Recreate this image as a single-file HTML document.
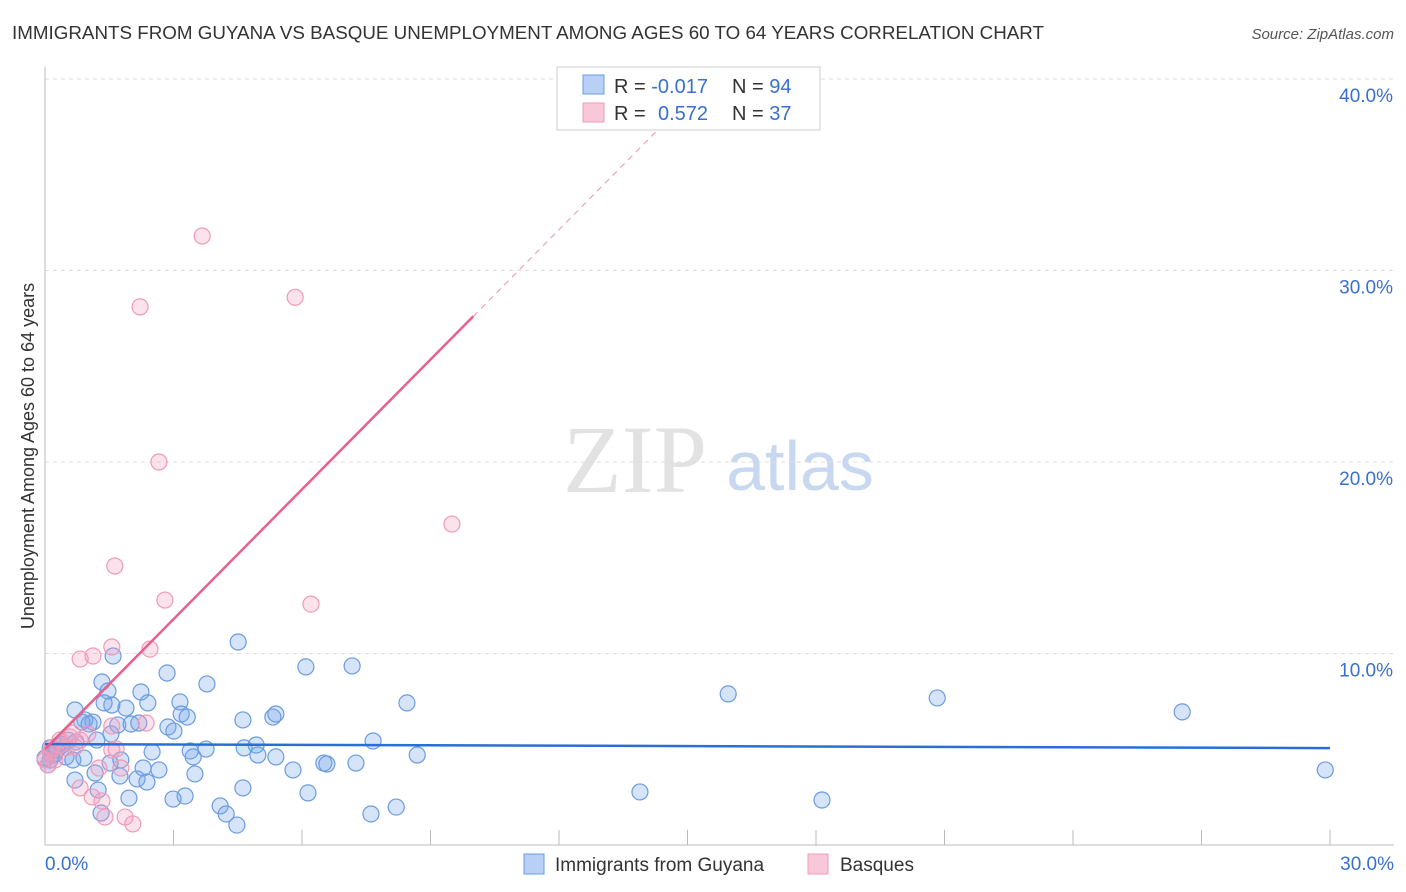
<!DOCTYPE html>
<html><head><meta charset="utf-8"><style>
body{margin:0;background:#fff;width:1406px;height:892px;overflow:hidden;font-family:"Liberation Sans",sans-serif}
svg{display:block}
</style></head><body>
<svg id="c" width="1406" height="892">
<text x="12" y="39" font-size="18" fill="#333" textLength="1032" lengthAdjust="spacingAndGlyphs">IMMIGRANTS FROM GUYANA VS BASQUE UNEMPLOYMENT AMONG AGES 60 TO 64 YEARS CORRELATION CHART</text>
<text x="1394" y="39" font-size="15" fill="#555" font-style="italic" text-anchor="end">Source: ZipAtlas.com</text>
<text transform="translate(34,456) rotate(-90)" font-size="18" fill="#333" text-anchor="middle">Unemployment Among Ages 60 to 64 years</text>
<text x="635" y="492" font-size="96" fill="#e2e2e2" font-family="Liberation Serif,serif" text-anchor="middle">ZIP</text>
<text x="800" y="490" font-size="70" fill="#c8d8f0" text-anchor="middle">atlas</text>
<g id="grid"></g><g id="marks"></g>
<g>
<rect x="557" y="67" width="263" height="63" fill="#fff" stroke="#ccc"/>
<rect x="583" y="75" width="21" height="19" fill="#b8d0f5" stroke="#6a9be0"/>
<rect x="583" y="103" width="21" height="19" fill="#f9c8d8" stroke="#ef9ab8"/>
<text x="614" y="93" font-size="20" fill="#333">R = <tspan fill="#3a6fd0">-0.017</tspan><tspan x="732">N = </tspan><tspan fill="#3a6fd0">94</tspan></text>
<text x="614" y="120" font-size="20" fill="#333">R = <tspan x="658" fill="#3a6fd0">0.572</tspan><tspan x="732">N = </tspan><tspan fill="#3a6fd0">37</tspan></text>
</g>
<g>
<rect x="524" y="854" width="20" height="20" fill="#b8d0f5" stroke="#6a9be0"/>
<text x="555" y="871" font-size="19" fill="#333">Immigrants from Guyana</text>
<rect x="808" y="854" width="20" height="20" fill="#f9c8d8" stroke="#ef9ab8"/>
<text x="840" y="871" font-size="19" fill="#333">Basques</text>
</g>
</svg>
<script>
const yTicks=[10,20,30,40];
const xTickLabels=["0.0%","30.0%"];
const blueX=[4.51,2.85,6.09,7.17,1.59,1.33,1.47,2.24,3.78,3.15,2.40,1.89,0.70,0.93,1.12,0.86,1.03,3.18,3.32,4.62,5.32,5.39,8.45,15.95,20.83,26.55,29.89,2.87,3.01,1.70,2.01,1.54,1.21,0.72,0.35,0.12,0.23,0.49,0.65,0.91,1.52,2.50,3.39,3.46,3.76,4.65,4.93,4.97,5.39,7.66,8.69,6.51,6.58,7.26,5.79,3.50,2.66,2.29,1.77,1.17,0.70,2.15,2.38,1.24,4.62,6.14,13.89,18.14,3.27,2.99,1.96,4.09,4.23,1.31,4.48,7.61,8.20,0.12,0.16,0.28,0.40,0.54,0,0.07,1.56,1.38,2.19,1.75];
const blueY=[10.6,8.98,9.3,9.35,9.87,8.51,8.04,7.99,8.41,7.47,7.42,7.15,7.05,6.53,6.42,6.42,6.32,6.84,6.68,6.53,6.68,6.84,7.42,7.89,7.68,6.95,3.92,6.16,5.95,6.27,6.32,5.80,5.48,5.38,5.27,5.07,4.75,4.60,4.44,4.54,4.28,4.86,4.91,4.60,5.01,5.07,5.22,4.70,4.60,5.43,4.70,4.28,4.23,4.28,3.92,3.71,3.92,4.02,4.44,3.76,3.39,3.45,3.29,2.87,2.98,2.72,2.77,2.35,2.56,2.40,2.45,2.04,1.62,1.67,1.04,1.62,1.98,4.44,4.70,4.96,5.22,5.48,4.54,4.18,7.31,7.42,6.37,3.60];
const pinkX=[3.67,5.84,2.22,2.66,9.50,1.63,2.80,6.21,1.56,2.45,1.12,0.82,2.36,1.56,1.00,0.82,0.58,0.35,0.12,0.23,0.07,1.66,1.77,1.26,0.82,1.10,1.33,1.87,2.05,1.40,0.35,0.49,0.70,0.16,0,1.56,0.63];
const pinkY=[31.8,28.6,28.1,20.0,16.76,14.57,12.79,12.58,10.34,10.23,9.87,9.71,6.37,6.21,5.80,5.48,5.64,5.22,4.86,4.44,4.18,5.01,4.02,4.02,2.98,2.51,2.30,1.46,1.10,1.46,5.48,5.07,5.12,5.07,4.44,4.96,5.85];
const blueTrend=[5.27,5.06];
const pinkTrend=[5.01,2.26];
const X=v=>45+v*(1285/30), Y=v=>845-v*19.15;
const NS="http://www.w3.org/2000/svg";
function mk(t,a,p){const e=document.createElementNS(NS,t);for(const k in a)e.setAttribute(k,a[k]);p.appendChild(e);return e;}
const g=document.getElementById('grid'), m=document.getElementById('marks');
yTicks.forEach(t=>{
 const l=mk('line',{x1:45,x2:1394,y1:Y(t),y2:Y(t),stroke:'#ddd','stroke-dasharray':'4,4'},g);
 
 
 const tx=mk('text',{x:1393,y:Y(t)+23,'font-size':19,fill:'#3a6fd0','text-anchor':'end'},g);
 tx.textContent=t.toFixed(1)+'%';
 
 
});
mk('line',{x1:45,x2:45,y1:67,y2:845,stroke:'#bbb'},g);
mk('line',{x1:45,x2:1394,y1:845,y2:845,stroke:'#bbb'},g);
for(let i=1;i<=10;i++){const t=mk('line',{x1:X(i*3),x2:X(i*3),y1:830,y2:845,stroke:'#bbb'},g);
 
 }
const xl0=mk('text',{x:45,y:870,'font-size':19,fill:'#3a6fd0'},g);xl0.textContent=xTickLabels[0];


const xl1=mk('text',{x:1394,y:870,'font-size':19,fill:'#3a6fd0','text-anchor':'end'},g);xl1.textContent=xTickLabels[1];


blueX.forEach((v,i)=>{const c=mk('circle',{cx:X(v),cy:Y(blueY[i]),r:8,fill:'rgba(120,165,235,0.3)',stroke:'#6a9be0','stroke-width':1.2},m);
 
 });
pinkX.forEach((v,i)=>{const c=mk('circle',{cx:X(v),cy:Y(pinkY[i]),r:8,fill:'rgba(245,160,190,0.3)',stroke:'#ef9ab8','stroke-width':1.2},m);
 
 });
const bl=mk('line',{x1:X(0),y1:Y(blueTrend[0]),x2:X(30),y2:Y(blueTrend[1]),stroke:'#2a6fd8','stroke-width':2.5},m);


const pl=mk('line',{x1:X(0),y1:Y(pinkTrend[0]),x2:X(10),y2:Y(pinkTrend[0]+pinkTrend[1]*10),stroke:'#e8608c','stroke-width':2.5},m);


const pd=mk('line',{x1:X(10),y1:Y(pinkTrend[0]+pinkTrend[1]*10),x2:X(14.3),y2:Y(pinkTrend[0]+pinkTrend[1]*14.3),stroke:'#f0a0bc','stroke-width':1.2,'stroke-dasharray':'6,5'},m);


</script>
</body></html>
